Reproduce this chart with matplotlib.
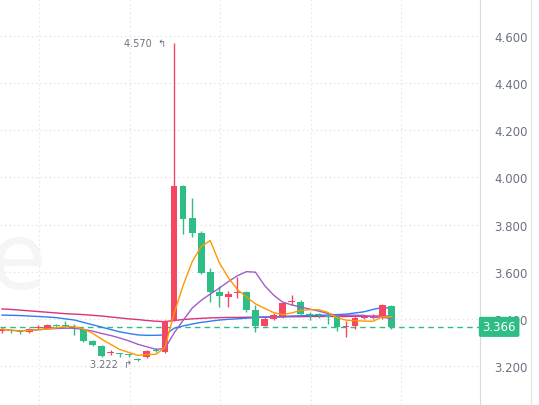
import numpy as np
import pandas as pd
import matplotlib
matplotlib.use('Agg')
import matplotlib.pyplot as plt

# candle data (red = up, green = down)
opens = [3.350, 3.350, 3.348, 3.343, 3.360, 3.357, 3.373, 3.374, 3.362, 3.357, 3.307, 3.286,
         3.255, 3.252, 3.248, 3.230, 3.237, 3.267, 3.258, 3.395, 3.965, 3.828, 3.764, 3.599,
         3.515, 3.491, 3.508, 3.515, 3.439, 3.371, 3.400, 3.411, 3.471, 3.473, 3.418, 3.418,
         3.413, 3.411, 3.366, 3.368, 3.402, 3.402, 3.411, 3.453]
closes = [3.356, 3.347, 3.344, 3.357, 3.364, 3.374, 3.370, 3.371, 3.359, 3.307, 3.289, 3.244,
          3.261, 3.249, 3.245, 3.227, 3.262, 3.264, 3.392, 3.964, 3.823, 3.764, 3.595, 3.515,
          3.495, 3.505, 3.511, 3.439, 3.368, 3.400, 3.415, 3.467, 3.476, 3.421, 3.415, 3.415,
          3.409, 3.364, 3.369, 3.404, 3.406, 3.406, 3.459, 3.366]
highs = [3.362, 3.355, 3.352, 3.360, 3.372, 3.378, 3.380, 3.390, 3.380, 3.360, 3.310, 3.290,
         3.268, 3.256, 3.252, 3.232, 3.266, 3.275, 3.395, 4.570, 3.968, 3.913, 3.774, 3.616,
         3.540, 3.520, 3.577, 3.520, 3.459, 3.408, 3.425, 3.470, 3.500, 3.478, 3.430, 3.425,
         3.422, 3.414, 3.390, 3.410, 3.418, 3.420, 3.463, 3.458]
lows = [3.340, 3.338, 3.336, 3.340, 3.355, 3.355, 3.365, 3.366, 3.330, 3.300, 3.285, 3.240,
        3.245, 3.240, 3.238, 3.222, 3.233, 3.260, 3.255, 3.390, 3.760, 3.747, 3.590, 3.470,
        3.450, 3.450, 3.490, 3.430, 3.345, 3.368, 3.395, 3.405, 3.460, 3.415, 3.395, 3.405,
        3.380, 3.350, 3.322, 3.358, 3.398, 3.398, 3.400, 3.355]

# long moving averages (history before view not shown)
ma_blue = [3.416, 3.415, 3.414, 3.412, 3.410, 3.408, 3.405, 3.400, 3.395, 3.385, 3.375, 3.365,
           3.355, 3.345, 3.338, 3.332, 3.330, 3.330, 3.332, 3.360, 3.370, 3.378, 3.385, 3.390,
           3.395, 3.398, 3.400, 3.403, 3.405, 3.407, 3.408, 3.410, 3.412, 3.413, 3.414, 3.415,
           3.416, 3.418, 3.420, 3.425, 3.430, 3.440, 3.448, 3.445]
ma_pink = [3.442, 3.440, 3.437, 3.434, 3.431, 3.428, 3.425, 3.422, 3.420, 3.418, 3.415, 3.412,
           3.408, 3.404, 3.400, 3.397, 3.393, 3.390, 3.388, 3.393, 3.397, 3.400, 3.402, 3.404,
           3.405, 3.406, 3.406, 3.407, 3.407, 3.408, 3.408, 3.408, 3.409, 3.409, 3.410, 3.410,
           3.410, 3.410, 3.410, 3.411, 3.411, 3.412, 3.412, 3.412]

last_price = 3.366
y_ticks = [3.2, 3.4, 3.6, 3.8, 4.0, 4.2, 4.4, 4.6]

RED = '#f5475f'
GREEN = '#2ebd85'

df = pd.DataFrame({'open': opens, 'close': closes, 'high': highs, 'low': lows})
ma5 = df['close'].rolling(5, min_periods=1).mean()
ma10 = df['close'].rolling(10, min_periods=1).mean()
x = np.arange(len(df))

fig = plt.figure(figsize=(5.39, 4.06), dpi=100)
ax = fig.add_axes([0, 0, 480 / 539, 1])
ax.set_xlim(-0.22, 52.8)
ax.set_ylim(3.0345, 4.757)

# grid
for t in y_ticks:
    ax.axhline(t, color='#e6e6e6', lw=0.8, ls=(0, (1.5, 2.5)), zorder=0)
for gx in [4.1, 14.1, 24.1, 34.1, 44.1]:
    ax.axvline(gx, color='#e6e6e6', lw=0.8, ls=(0, (1.5, 2.5)), zorder=0)

# faint watermark
ax.text(-1.3, 3.64, 'e', fontsize=66, color='#f5f5f5', va='center', ha='left', zorder=0,
        clip_on=True)

for i, r in df.iterrows():
    c = RED if r['close'] >= r['open'] else GREEN
    ax.vlines(i, r['low'], r['high'], color=c, lw=1, zorder=3)
    lo, hi = sorted([r['open'], r['close']])
    ax.bar(i, max(hi - lo, 0.004), bottom=lo, width=0.75, color=c, zorder=4)

ax.plot(x, ma_pink, color='#e0307a', lw=1, zorder=2)
ax.plot(x, ma_blue, color='#2f7cf6', lw=1, zorder=2)
ax.plot(x, ma10, color='#9c5ec8', lw=1, zorder=5)
ax.plot(x, ma5, color='#ff9800', lw=1, zorder=5)

ax.axhline(last_price, color=GREEN, lw=1, ls=(0, (4, 3)), zorder=1)

ax.text(19 - 0.9, 4.570, '4.570  ↰', fontsize=7, color='#6b7280', ha='right', va='center')
ax.text(15 - 0.6, 3.210, '3.222  ↱', fontsize=7, color='#6b7280', ha='right', va='center')

for s in ['top', 'left', 'bottom']:
    ax.spines[s].set_visible(False)
ax.spines['right'].set_color('#d9d9d9')
ax.set_xticks([])
ax.yaxis.tick_right()
ax.set_yticks(y_ticks)
ax.set_yticklabels([f'{t:.3f}' for t in y_ticks], fontsize=8.5, color='#6b7280')
ax.tick_params(axis='y', length=0, pad=10)

ax.text(1.005, (last_price - 3.0345) / (4.757 - 3.0345), f'{last_price:.3f}', transform=ax.transAxes,
        fontsize=8.5, color='white', ha='left', va='center',
        bbox=dict(boxstyle='round,pad=0.3,rounding_size=0.15', fc=GREEN, ec='none'))

fig.add_artist(plt.Line2D([531 / 539, 531 / 539], [0, 1], color='#e6e6e6', lw=1))

fig.savefig('out.png', dpi=100)
